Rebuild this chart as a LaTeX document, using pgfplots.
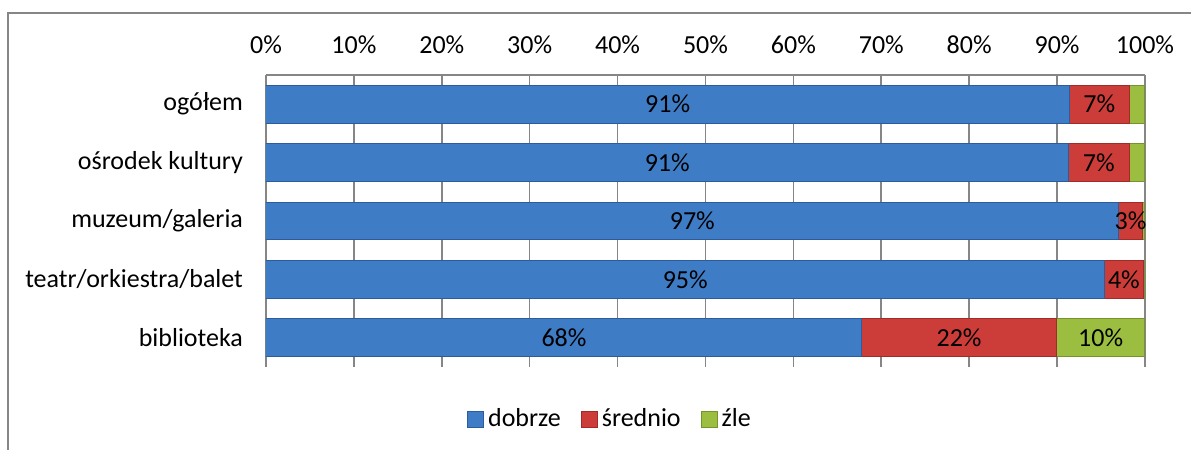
\documentclass[border=0pt]{standalone}
\usepackage{pgfplots}
\pgfplotsset{compat=1.18}
\usepackage{fontspec}
\setmainfont{Carlito}

\definecolor{cblue}{RGB}{62,124,198}
\definecolor{cblued}{RGB}{44,92,156}
\definecolor{cred}{RGB}{204,60,56}
\definecolor{credd}{RGB}{160,44,42}
\definecolor{cgreen}{RGB}{155,190,64}
\definecolor{cgreend}{RGB}{118,148,46}
\definecolor{gridgray}{RGB}{134,134,134}

\begin{document}
\fontsize{13}{15}\selectfont
\begin{tikzpicture}
\useasboundingbox (0,0) rectangle (595.5pt,-225pt);
\draw[gridgray,line width=0.8pt] (4pt,-240pt) -- (4pt,-6.5pt) -- (600pt,-6.5pt);
\begin{axis}[at={(133pt,-37.5pt)},anchor=north west,
scale only axis,width=439.5pt,height=146pt,
xbar stacked,bar width=0.65,
xmin=0,xmax=100,ymin=-0.5,ymax=4.5,y dir=reverse,
axis x line*=top,axis y line*=left,
axis line style={gridgray,line width=0.8pt,-},
xtick={0,10,...,100},xticklabel={\pgfmathprintnumber{\tick}\%},
/pgf/number format/assume math mode=true,
ytick={0,1,2,3,4},
yticklabels={ogółem,ośrodek kultury,muzeum/galeria,teatr/orkiestra/balet,biblioteka},
major tick length=0pt,
xticklabel style={yshift=6pt},
yticklabel style={xshift=-7pt},
xmajorgrids=true,major grid style={gridgray,line width=0.8pt},
point meta=explicit symbolic,
nodes near coords,
every node near coord/.append style={anchor=center,font=\fontsize{13}{15}\selectfont,text=black},
legend style={at={(0.3925,-0.18)},anchor=center,legend columns=3,draw=none,fill=none,
  /tikz/every even column/.append style={column sep=8pt}},
legend image code/.code={\fill[#1] (0pt,-4pt) rectangle (8pt,4pt);},
]
\addplot+[fill=cblue,draw=cblued,line width=0.5pt] coordinates {
(91.4,0) [91\%] (91.3,1) [91\%] (97.0,2) [97\%] (95.4,3) [95\%] (67.8,4) [68\%]};
\addlegendentry{dobrze}
\addplot+[fill=cred,draw=credd,line width=0.5pt] coordinates {
(6.8,0) [7\%] (6.9,1) [7\%] (2.7,2) [3\%] (4.4,3) [4\%] (22.1,4) [22\%]};
\addlegendentry{średnio}
\addplot+[fill=cgreen,draw=cgreend,line width=0.5pt] coordinates {
(1.8,0) [{}] (1.8,1) [{}] (0.3,2) [{}] (0.2,3) [{}] (10.1,4) [10\%]};
\addlegendentry{źle}
\end{axis}
\end{tikzpicture}
\end{document}
